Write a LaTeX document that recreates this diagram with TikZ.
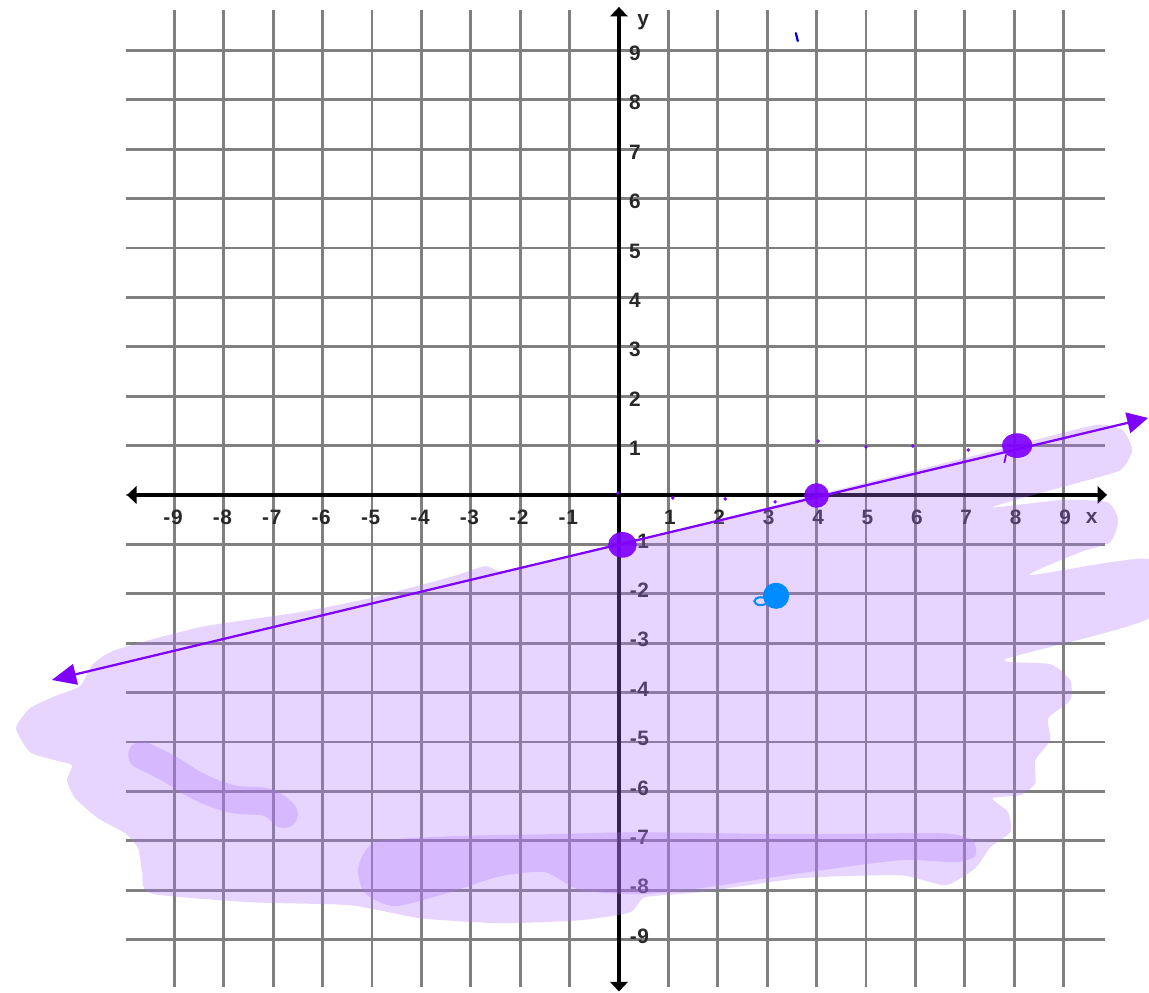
\documentclass[tikz,border=0pt]{standalone}
\usepackage{fontspec}
\setmainfont{Liberation Sans}
\usetikzlibrary{arrows.meta,shapes.geometric}
\definecolor{gridgray}{RGB}{128,128,128}
\definecolor{violetline}{RGB}{127,0,255}
\definecolor{shadecol}{RGB}{178,118,255}
\definecolor{dotblue}{RGB}{0,140,255}
\definecolor{speckblue}{RGB}{0,0,230}
\definecolor{labelcol}{RGB}{40,40,40}
\begin{document}
\begin{tikzpicture}[
  gridline/.style={gridgray, line width=1.6pt},
  axisline/.style={black, line width=2.2pt, {Triangle[width=10pt,length=5.5pt]}-{Triangle[width=10pt,length=5.5pt]}},
  tick/.style={font=\fontsize{12}{12}\selectfont\bfseries, text=labelcol, inner sep=0pt},
  shadefill/.style={fill=shadecol, fill opacity=0.3, draw=none},
  shadestroke/.style={draw=shadecol, draw opacity=0.3, line cap=round, line join=round},
  vline/.style={violetline, line width=1.3pt},
  pdot/.style={ellipse, fill=violetline, fill opacity=0.92, inner sep=0pt},
  speck/.style={circle, fill=violetline, inner sep=0pt, minimum size=2.2pt}
]
\useasboundingbox (-12.530,-10.081) rectangle (10.729,10.020);
\fill[white] (-12.530,-10.081) rectangle (10.729,10.020);

% grid
\foreach \i in {-9,...,9} \draw[gridline] (\i,-9.96) -- (\i,9.82);
\foreach \j in {-9,...,9} \draw[gridline] (-9.97,\j) -- (9.84,\j);

% axes
\coordinate (xl) at (-9.96,0);
\coordinate (xr) at (9.88,0);
\coordinate (yb) at (0,-10.05);
\coordinate (yt) at (0,9.88);
\draw[axisline] (xl) -- (xr);
\draw[axisline] (yb) -- (yt);

% tick labels
\foreach \i in {1,...,9} {
  \node[tick] (xp\i) at (\i+0.03,-0.45) {\i};
  \node[tick] (xn\i) at (-\i+0.05,-0.45) {\llap{-\kern0.4pt}\i};
  \node[tick] (yp\i) at (0.32,\i-0.06) {\i};
  \node[tick] (yn\i) at (0.49,-\i+0.07) {\llap{-\kern0.4pt}\i};
}
\node[tick] (xlab) at (9.57,-0.47) {x};
\node[tick] (ylab) at (0.49,9.58) {y};

% shading (pixel coordinates)
\begin{scope}[shift={(-12.530cm,10.020cm)}, x=0.020243cm, y=-0.020243cm]
\fill[shadefill] plot[smooth cycle, tension=0.35] coordinates {
 (16,728) (30,708) (55,696) (80,686) (92,665) (115,650) (200,627) (300,612)
 (370,598) (450,577) (485,566) (500,571) (540,564) (620,544) (800,499) (1000,449)
 (1095,425) (1122,430) (1132,450) (1120,470) (1080,482) (992,507) (1060,500)
 (1107,502) (1118,520) (1110,542) (1080,552) (1030,575) (1149,559) (1149,618)
 (1005,659) (1050,664) (1070,680) (1070,700) (1048,718) (1050,740) (1035,760)
 (1035,783) (1020,795) (992,798) (1008,812) (1010,832) (990,847) (975,868)
 (945,885) (900,875) (800,878) (700,892) (645,897) (630,912) (580,920)
 (500,923) (420,918) (350,905) (250,902) (150,893) (142,870) (138,848)
 (125,833) (98,818) (75,798) (67,780) (72,765) (55,760) (30,752)};
\draw[shadestroke, line width=16pt] plot[smooth, tension=0.6] coordinates {
 (142,755) (168,768) (200,787) (233,799) (267,802) (284,814)};
\fill[shadefill] plot[smooth cycle, tension=0.4] coordinates {
 (358,868) (375,842) (450,836) (550,834) (640,832) (800,834) (940,833)
 (972,840) (975,856) (955,862) (900,860) (800,873) (700,888) (640,894)
 (580,890) (545,872) (500,876) (450,892) (395,906) (365,893)};
\end{scope}

% boundary line
\coordinate (L1) at (-11.48,-3.745);
\coordinate (L2) at (10.71,1.559);
\draw[vline, {Triangle[length=14pt,width=12pt]}-{Triangle[length=12pt,width=12pt]}] (L1) -- (L2);

% plotted points
\node[pdot, minimum width=0.58cm, minimum height=0.52cm] (p1) at (0.07,-1.01) {};
\node[pdot, minimum width=0.50cm, minimum height=0.50cm] (p2) at (4.0,-0.01) {};
\node[pdot, minimum width=0.62cm, minimum height=0.50cm] (p3) at (8.06,1.0) {};
\coordinate (p3tail) at (7.80,0.65);
\draw[violetline, line width=1pt] (p3.south west) -- (p3tail);

% test point
\node[circle, fill=dotblue, inner sep=0pt, minimum size=0.53cm] (tp) at (3.18,-2.04) {};
\node[ellipse, draw=dotblue, line width=1.2pt, inner sep=0pt, minimum width=0.26cm, minimum height=0.16cm] (tploop) at (2.87,-2.15) {};

% specks
\node[speck] (s1) at (-0.02,0.04) {};
\node[speck] (s2) at (1.09,-0.06) {};
\node[speck] (s3) at (2.15,-0.08) {};
\node[speck] (s4) at (3.16,-0.14) {};
\node[speck] (s5) at (4.03,1.09) {};
\node[speck] (s6) at (5.0,0.97) {};
\node[speck] (s7) at (5.95,0.99) {};
\node[speck] (s8) at (7.07,0.91) {};
\coordinate (b1) at (3.58,9.35);
\coordinate (b2) at (3.62,9.19);
\draw[speckblue, line width=1.3pt, line cap=round] (b1) -- (b2);
\end{tikzpicture}
\end{document}
